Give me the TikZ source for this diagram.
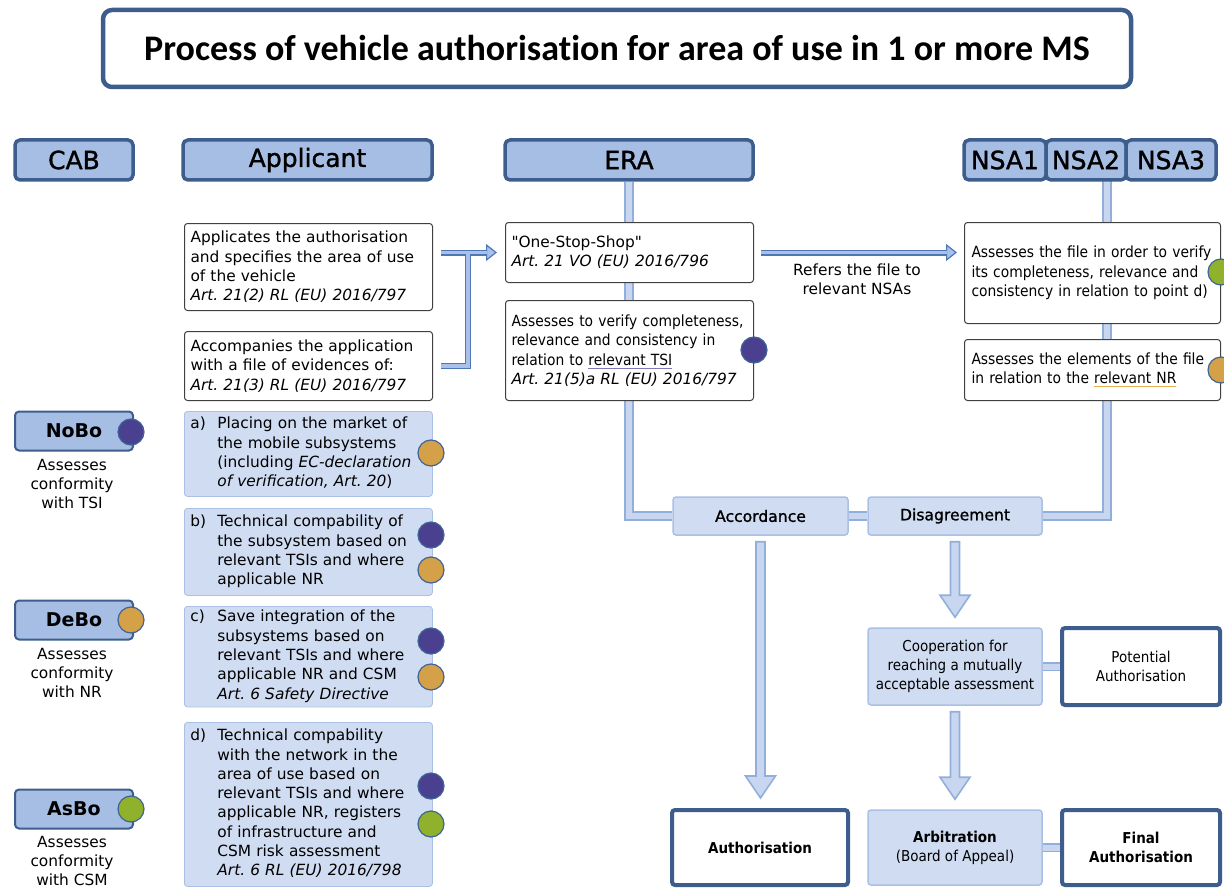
\documentclass[tikz,border=0pt]{standalone}
\usepackage{fontspec}
\setmainfont{DejaVu Sans}
\newfontfamily\narrowfont{DejaVu Sans}[FakeStretch=0.9]
\newfontfamily\headfont{DejaVu Sans}[FakeBold=1.3]
\newfontfamily\titlefont{Carlito}[Ligatures=NoCommon]
\usepackage{tikz}
\usetikzlibrary{arrows.meta,backgrounds,calc}
\frenchspacing

\definecolor{hdrfill}{RGB}{166,189,228}
\definecolor{hdredge}{RGB}{61,94,140}
\definecolor{lightfill}{RGB}{207,220,241}
\definecolor{lightedge}{RGB}{170,192,228}
\definecolor{pipeedge}{RGB}{146,174,218}
\definecolor{pipecore}{RGB}{200,215,239}
\definecolor{bluerim}{RGB}{80,119,181}
\definecolor{bluecore}{RGB}{169,193,234}
\definecolor{boxedge}{RGB}{64,64,64}
\definecolor{tsidot}{RGB}{75,64,143}
\definecolor{nrdot}{RGB}{212,160,72}
\definecolor{csmdot}{RGB}{143,177,44}
\definecolor{dotedge}{RGB}{63,100,150}
\definecolor{tsiline}{RGB}{126,123,184}
\definecolor{nrline}{RGB}{232,179,79}

\newcommand\bodysize{\fontsize{15.4}{19.3}\selectfont}
\newcommand\narrowsize{\narrowfont\fontsize{15.4}{19.5}\selectfont}
\newcommand\smallnarrow{\narrowfont\fontsize{15}{19}\selectfont}
\newcommand\straightquote{\XeTeXglyph\XeTeXcharglyph"22\relax}
\newcommand\tagged[2]{\makebox[27pt][l]{#1}\begin{tabular}[t]{@{}l@{}}#2\end{tabular}}
\newcommand\markul[2]{\setbox0\hbox{#2}\rlap{\color{#1}\rule[-3.5pt]{\wd0}{1pt}}\box0}
\newcommand\fatarrow[2]{%
	\path[bigarrow] let \p1=(#1.south), \p2=(#2.north) in
		(\x1-4.5pt,\y1-6pt) -- (\x1-4.5pt,\y2+32pt) -- (\x1-15pt,\y2+32pt) -- (\x1,\y2+10pt)
		-- (\x1+15pt,\y2+32pt) -- (\x1+4.5pt,\y2+32pt) -- (\x1+4.5pt,\y1-6pt) -- cycle;}

\begin{document}
\begin{tikzpicture}[x=1pt, y=-1pt,
		titlebox/.style={draw=hdredge, fill=white, line width=4.5, rounded corners=9, minimum width=1028, minimum height=77, font=\titlefont\bfseries\fontsize{36}{42}\selectfont},
		header/.style={draw=hdredge, fill=hdrfill, line width=3.5, rounded corners=5, minimum height=40, inner sep=0, font=\headfont\fontsize{25}{30}\selectfont},
		cabbox/.style={draw=hdredge, fill=hdrfill, line width=2, rounded corners=4, minimum width=118, minimum height=39, inner sep=0, font=\bfseries\fontsize{19}{23}\selectfont},
		cabnote/.style={align=center, font=\bodysize, inner sep=0},
		txtbox/.style={draw=boxedge, fill=white, line width=1, rounded corners=3, anchor=north west, align=left, inner xsep=6, inner ysep=2, font=\bodysize},
		evbox/.style={txtbox, draw=lightedge, fill=lightfill, line width=0.8, minimum width=248, text width=236},
		markdot/.style={circle, draw=dotedge, line width=1.2, minimum size=26, inner sep=0},
		flowbox/.style={draw=lightedge, fill=lightfill, line width=1.5, rounded corners=3, minimum width=174, align=center, inner sep=0, font=\headfont\fontsize{15.6}{19}\selectfont},
		resultbox/.style={draw=hdredge, fill=white, line width=4, rounded corners=3, minimum width=158, minimum height=77, align=center, inner sep=0, font=\smallnarrow},
		pipeline/.style={draw=pipeedge, line width=1.8, double=pipecore, double distance=6},
		bigarrow/.style={draw=pipeedge, fill=pipecore, line width=1.6},
		bluerimline/.style={draw=bluerim, line width=6},
		bluecoreline/.style={draw=bluecore, line width=3.2},
		bluetip/.style={-{Triangle[length=11pt, width=17pt, line width=1.2pt, fill=bluecore]}}
	]
	\useasboundingbox (0,0) rectangle (1224,888);
	\node[titlebox] (title) at (617,48.5) {Process of vehicle authorisation for area of use in 1 or more MS};

	\node[header, minimum width=118] (cab) at (74,160) {CAB};
	\node[header, minimum width=249] (applicant) at (307.5,160) {Applicant};
	\node[header, minimum width=248] (era) at (629,160) {ERA};
	\node[header, minimum width=82] (nsa1) at (1005,160) {NSA1};
	\node[header, minimum width=80] (nsa2) at (1086,160) {NSA2};
	\node[header, minimum width=90] (nsa3) at (1171,160) {NSA3};
	\coordinate (nsafoot) at (1107,180);

	\node[txtbox, minimum width=248, minimum height=87, text width=236] (apply) at (184,223) {Applicates the authorisation\\and specifies the area of use\\of the vehicle\\\textit{Art. 21(2) RL (EU) 2016/797}};
	\node[txtbox, minimum width=248, minimum height=69, text width=236] (evidence) at (184,331) {Accompanies the application\\with a file of evidences of:\\\textit{Art. 21(3) RL (EU) 2016/797}};
	\node[txtbox, minimum width=248, minimum height=60, text width=236] (stopshop) at (505,222) {\straightquote One-Stop-Shop\straightquote\\\textit{Art. 21 VO (EU) 2016/796}};
	\node[txtbox, font=\narrowsize, minimum width=248, minimum height=100, text width=236] (eracheck) at (505,300) {Assesses to verify completeness,\\relevance and consistency in\\relation to \markul{tsiline}{relevant TSI}\\{\normalfont\itshape Art. 21(5)a RL (EU) 2016/797}};
	\node[txtbox, font=\narrowsize, minimum width=256, minimum height=101, text width=242] (nsacheck) at (964,222) {Assesses the file in order to verify\\its completeness, relevance and\\consistency in relation to point d)};
	\node[txtbox, font=\narrowsize, minimum width=256, minimum height=61, text width=242] (nsanr) at (964,339) {Assesses the elements of the file\\in relation to the \markul{nrline}{relevant NR}};
	\node[cabnote] (refers) at (857,279) {Refers the file to\\relevant NSAs};
	\node[markdot, fill=tsidot] (eradot) at (754,350) {};
	\node[markdot, fill=csmdot] (nsacsmdot) at (1221,272) {};
	\node[markdot, fill=nrdot] (nsanrdot) at (1221,370) {};

	\node[cabbox] (nobo) at (74,431) {NoBo};
	\node[markdot, fill=tsidot] (nobodot) at (131,432) {};
	\node[cabnote] (nobonote) at (72,484) {Assesses\\conformity\\with TSI};
	\node[cabbox] (debo) at (74,620) {DeBo};
	\node[markdot, fill=nrdot] (debodot) at (131,620) {};
	\node[cabnote] (debonote) at (72,673) {Assesses\\conformity\\with NR};
	\node[cabbox] (asbo) at (74,809) {AsBo};
	\node[markdot, fill=csmdot] (asbodot) at (131,809) {};
	\node[cabnote] (asbonote) at (72,861) {Assesses\\conformity\\with CSM};

	\node[evbox, minimum height=85] (market) at (184,411) {\tagged{a)}{Placing on the market of\\the mobile subsystems\\(including \textit{EC-declaration}\\\textit{of verification, Art. 20})}};
	\node[evbox, minimum height=87] (compat) at (184,508) {\tagged{b)}{Technical compability of\\the subsystem based on\\relevant TSIs and where\\applicable NR}};
	\node[evbox, minimum height=100] (integration) at (184,606) {\tagged{c)}{Save integration of the\\subsystems based on\\relevant TSIs and where\\applicable NR and CSM\\\textit{Art. 6 Safety Directive}}};
	\node[evbox, minimum height=164] (network) at (184,722) {\tagged{d)}{Technical compability\\with the network in the\\area of use based on\\relevant TSIs and where\\applicable NR, registers\\of infrastructure and\\CSM risk assessment\\\textit{Art. 6 RL (EU) 2016/798}}};
	\node[markdot, fill=nrdot] (marketnr) at (431,453) {};
	\node[markdot, fill=tsidot] (compattsi) at (431,535) {};
	\node[markdot, fill=nrdot] (compatnr) at (431,570) {};
	\node[markdot, fill=tsidot] (integrationtsi) at (431,641) {};
	\node[markdot, fill=nrdot] (integrationnr) at (431,677) {};
	\node[markdot, fill=tsidot] (networktsi) at (431,786) {};
	\node[markdot, fill=csmdot] (networkcsm) at (431,824) {};

	\node[flowbox, minimum width=175, minimum height=38] (accord) at (760.5,516) {Accordance};
	\node[flowbox, minimum height=38] (disagree) at (955,516) {Disagreement};
	\node[flowbox, minimum height=77, font=\smallnarrow] (cooperate) at (955,666.5) {Cooperation for\\reaching a mutually\\acceptable assessment};
	\node[resultbox] (potential) at (1141,666.5) {Potential\\Authorisation};
	\node[resultbox, minimum width=176, minimum height=75] (authorise) at (760,847.5) {\textbf{Authorisation}};
	\node[flowbox, minimum height=75, font=\smallnarrow] (arbitrate) at (955,847.5) {\textbf{Arbitration}\\(Board of Appeal)};
	\node[resultbox, minimum height=75] (final) at (1141,847.5) {\textbf{Final}\\\textbf{Authorisation}};

	\begin{scope}[on background layer]
		\path[pipeline] (era.south) |- (accord.west)
			(nsafoot) |- (disagree.east)
			(accord.east) -- (disagree.west)
			(cooperate.east) -- (potential.west)
			(arbitrate.east) -- (final.west);
	\end{scope}

	\fatarrow{accord}{authorise}
	\fatarrow{disagree}{cooperate}
	\fatarrow{cooperate}{arbitrate}

	\path[bluerimline, bluetip] ($(apply.east |- stopshop.west)+(8,0)$) -- ($(stopshop.west)+(-8,0)$);
	\path[bluerimline] ($(evidence.east)+(8,0)$) -| ($(apply.east |- stopshop.west)+(35,0)$);
	\path[bluerimline, bluetip] ($(stopshop.east)+(7,0)$) -- ($(stopshop.east -| nsacheck.west)+(-7,0)$);
	\path[bluecoreline, shorten >=10.5pt] ($(apply.east |- stopshop.west)+(8,0)$) -- ($(stopshop.west)+(-8,0)$);
	\path[bluecoreline] ($(evidence.east)+(8,0)$) -| ($(apply.east |- stopshop.west)+(35,0)$);
	\path[bluecoreline, shorten >=10.5pt] ($(stopshop.east)+(7,0)$) -- ($(stopshop.east -| nsacheck.west)+(-7,0)$);
\end{tikzpicture}
\end{document}
